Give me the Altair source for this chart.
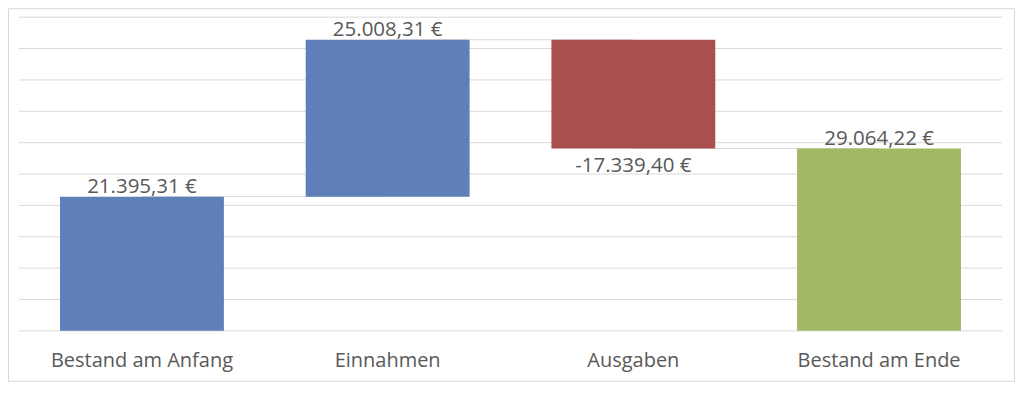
import altair as alt
import pandas as pd

categories = ["Bestand am Anfang", "Einnahmen", "Ausgaben", "Bestand am Ende"]
amounts = [21395.31, 25008.31, -17339.40, 29064.22]
kinds = ["total", "delta", "delta", "total"]
palette = ["#5F7FB9", "#5F7FB9", "#A9504F", "#A2B863"]
y_ticks = list(range(0, 50001, 5000))


def fmt_eur(v):
    s = f"{abs(v):,.2f}".replace(",", "X").replace(".", ",").replace("X", ".")
    return ("-" if v < 0 else "") + s + " €"


rows = []
running = 0.0
for cat, amt, kind in zip(categories, amounts, kinds):
    if kind == "total":
        lo, hi = 0.0, amt
        running = amt
    else:
        start = running
        running = running + amt
        lo, hi = min(start, running), max(start, running)
    rows.append({"cat": cat, "lo": lo, "hi": hi, "amt": amt,
                 "label": fmt_eur(amt), "neg": amt < 0})
bars_df = pd.DataFrame(rows)

conn_rows = []
running = 0.0
for i, (amt, kind) in enumerate(zip(amounts, kinds)):
    running = amt if kind == "total" else running + amt
    if i + 1 < len(categories):
        conn_rows.append({"from_cat": categories[i], "to_cat": categories[i + 1], "level": running})
conn_df = pd.DataFrame(conn_rows)
grid_df = pd.DataFrame({"v": y_ticks})

FONT = "Open Sans"
TEXT = "#595959"
GRID = "#d9d9d9"

xscale = alt.Scale(domain=categories, paddingInner=0.333, paddingOuter=0.167)
yscale = alt.Scale(domain=[0, 50000], nice=False, zero=True)

x_enc = alt.X("cat:N", scale=xscale, sort=categories,
              axis=alt.Axis(title=None, labelAngle=0, labelAlign="center", ticks=False, tickSize=0,
                            domain=False, grid=False,
                            labelFont=FONT, labelFontSize=20, labelColor=TEXT,
                            labelBaseline="alphabetic", labelPadding=36, labelLimit=400))

border = alt.Chart(pd.DataFrame({"a": [0]})).mark_rect(
    fill=None, stroke=GRID, strokeWidth=1
).encode(x=alt.value(-10.5), x2=alt.value(996.5), y=alt.value(-8.5), y2=alt.value(364.5))

gridlines = alt.Chart(grid_df).mark_rule(color=GRID, strokeWidth=1).encode(
    y=alt.Y("v:Q", scale=yscale, axis=None),
)

connectors = alt.Chart(conn_df).mark_rule(color=GRID, strokeWidth=1).encode(
    x=alt.X("from_cat:N", scale=xscale, sort=categories),
    x2="to_cat:N",
    y=alt.Y("level:Q", scale=yscale, axis=None),
)

bars = alt.Chart(bars_df).mark_bar().encode(
    x=x_enc,
    y=alt.Y("lo:Q", scale=yscale, axis=None),
    y2="hi:Q",
    color=alt.Color("cat:N", scale=alt.Scale(domain=categories, range=palette), legend=None),
)

pos_labels = alt.Chart(bars_df).transform_filter("!datum.neg").mark_text(
    font=FONT, fontSize=20.5, color=TEXT, baseline="alphabetic", dy=-4
).encode(
    x=alt.X("cat:N", scale=xscale, sort=categories),
    y=alt.Y("hi:Q", scale=yscale, axis=None),
    text="label:N",
)

neg_labels = alt.Chart(bars_df).transform_filter("datum.neg").mark_text(
    font=FONT, fontSize=20.5, color=TEXT, baseline="alphabetic", dy=23.5
).encode(
    x=alt.X("cat:N", scale=xscale, sort=categories),
    y=alt.Y("lo:Q", scale=yscale, axis=None),
    text="label:N",
)

chart = alt.layer(border, gridlines, connectors, bars, pos_labels, neg_labels).properties(
    width=984, height=314,
    autosize=alt.AutoSizeParams(type="none"),
    padding={"left": 11, "top": 9, "right": 14, "bottom": 51},
    background="white",
).configure_view(stroke=None)

chart.save("out.html", embed_options={"renderer": "svg", "actions": False})
